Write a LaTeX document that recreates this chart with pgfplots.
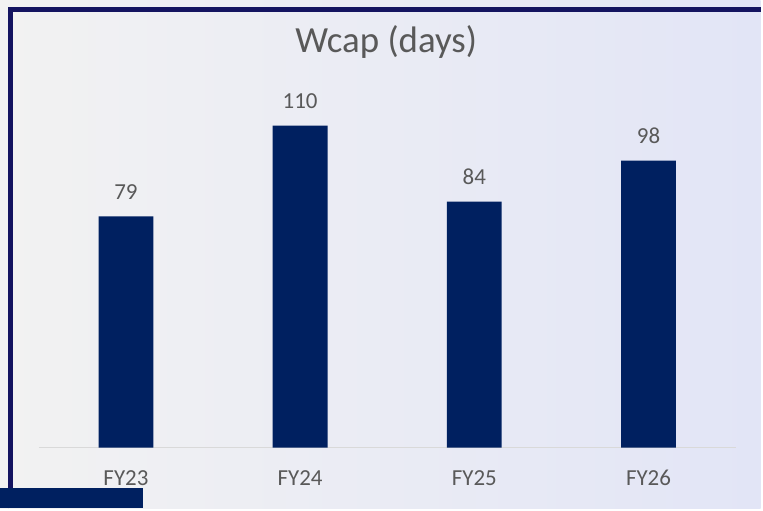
\documentclass[border=0pt]{standalone}
\usepackage{fontspec}
\setmainfont{Carlito}
\usepackage{pgfplots}
\pgfplotsset{compat=1.18}
\definecolor{navy}{RGB}{0,32,96}
\definecolor{framec}{RGB}{20,20,96}
\definecolor{txt}{RGB}{89,89,89}
\definecolor{bgL}{RGB}{242,242,242}
\definecolor{bgR}{RGB}{226,229,246}
\definecolor{basec}{RGB}{217,217,217}
\begin{document}
\begin{tikzpicture}[x=1bp,y=1bp]
\shade[left color=bgL, right color=bgR] (0,0) rectangle (763,510);
\draw[framec, line width=5bp] (10.5,0) -- (10.5,500) -- (763,500);
\fill[navy] (0,0) rectangle (143,20);
\node[anchor=base, text=txt, font=\fontsize{37bp}{42bp}\selectfont, inner sep=0pt] at (387.5,457) {Wcap (days)};
\begin{axis}[
  at={(39bp,61bp)}, anchor=south west,
  scale only axis, width=699bp, height=381.7bp,
  xmin=-0.5, xmax=3.5, ymin=0, ymax=130,
  hide y axis,
  axis x line*=bottom,
  x axis line style={draw=basec, line width=1.5bp, -},
  xtick={0,1,2,3},
  xticklabels={FY23,FY24,FY25,FY26},
  major tick length=0pt,
  xticklabel style={text=txt, font=\fontsize{23bp}{27bp}\selectfont, inner sep=0pt, anchor=base, yshift=-38bp},
  /pgf/number format/assume math mode=true,
  ybar, bar width=55bp,
  nodes near coords,
  every node near coord/.append style={text=txt, font=\fontsize{23bp}{27bp}\selectfont, inner sep=0pt, yshift=17bp},
  clip=false,
]
\addplot[fill=navy, draw=none, bar shift=0pt] coordinates {(0,79) (1,110) (2,84) (3,98)};
\end{axis}
\end{tikzpicture}
\end{document}
